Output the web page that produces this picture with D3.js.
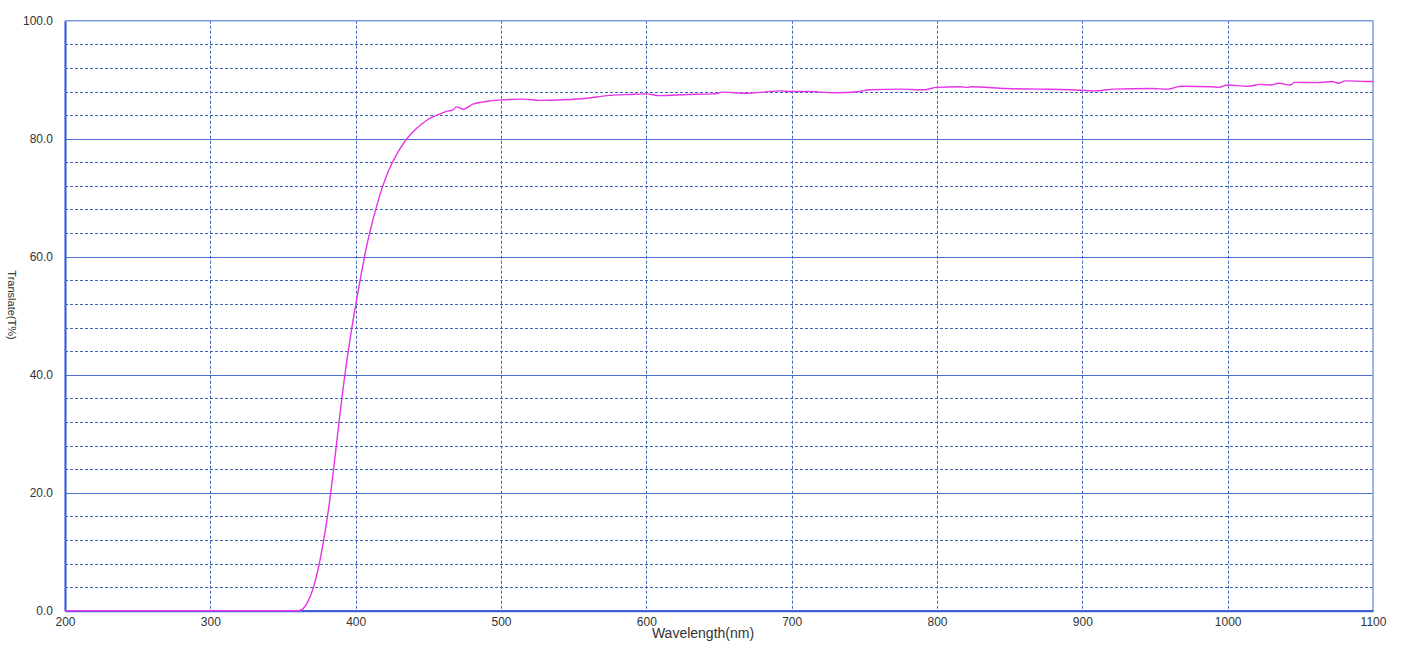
<!DOCTYPE html>
<html>
<head>
<meta charset="utf-8">
<script src="https://cdn.jsdelivr.net/npm/d3@7"></script>
<style>
  html, body { margin: 0; padding: 0; background: #fff; }
  svg { display: block; font-family: Arial, "Liberation Sans", sans-serif; }
</style>
</head>
<body>
<svg id="chart" width="1412" height="665"></svg>
<script>
// ---- data ----
const wavelength = [200, 360, 363, 367, 371, 375, 378, 380, 382, 384, 386, 388, 390, 392, 394, 396, 398, 400, 402, 404, 406, 408, 410, 414, 418, 422, 426, 430, 435, 440, 445, 450, 456, 462, 467, 469.5, 474, 481, 487, 492, 502, 515, 527, 543, 559, 573, 589, 600, 609, 628, 646, 653, 669, 680, 692, 700, 713, 729, 747, 753, 775, 791, 800, 816, 821, 823, 848, 869, 892, 908, 922, 948, 959, 968, 989, 994, 1000, 1014, 1023, 1030, 1035, 1043, 1046, 1062, 1072, 1076, 1081, 1095, 1100];
const transmittance = [0, 0, 0.2, 1.5, 4, 8, 12, 15, 18.4, 22.3, 26.5, 30.8, 35, 38.9, 42.5, 45.8, 48.9, 51.8, 54.6, 57.3, 59.9, 62.3, 64.4, 68.2, 71.5, 74.2, 76.3, 78.1, 79.9, 81.3, 82.4, 83.3, 84.0, 84.6, 84.9, 85.4, 85.0, 85.9, 86.2, 86.4, 86.6, 86.7, 86.5, 86.6, 86.85, 87.3, 87.5, 87.6, 87.3, 87.5, 87.6, 87.9, 87.7, 87.9, 88.1, 88.0, 88.0, 87.8, 88.0, 88.3, 88.4, 88.3, 88.7, 88.8, 88.7, 88.8, 88.5, 88.4, 88.3, 88.1, 88.4, 88.5, 88.4, 88.9, 88.8, 88.7, 89.1, 88.9, 89.2, 89.1, 89.4, 89.1, 89.55, 89.5, 89.7, 89.4, 89.8, 89.7, 89.7];
const xTicks = [200, 300, 400, 500, 600, 700, 800, 900, 1000, 1100];
const yMajorTicks = [0, 20, 40, 60, 80, 100];
const yMinorTicks = [4, 8, 12, 16, 24, 28, 32, 36, 44, 48, 52, 56, 64, 68, 72, 76, 84, 88, 92, 96];
const xTitle = "Wavelength(nm)";
const yTitle = "Translate(T%)";

// ---- layout ----
const L = 65, R = 1373, T = 20.7, B = 610.7;
const svg = d3.select("#chart");
const x = d3.scaleLinear().domain([200, 1100]).range([L, R]);
const y = d3.scaleLinear().domain([0, 100]).range([B, T]);

const gridColor = "#3f63b8";
const axisColor = "#3c5fd6";

// minor dashed horizontal
svg.append("g").selectAll("line").data(yMinorTicks).join("line")
  .attr("x1", L).attr("x2", R)
  .attr("y1", d => Math.round(y(d)) + 0.5).attr("y2", d => Math.round(y(d)) + 0.5)
  .attr("stroke", gridColor).attr("stroke-width", 1).attr("stroke-dasharray", "3,2");

// major solid horizontal
svg.append("g").selectAll("line").data(yMajorTicks.filter(d => d > 0 && d < 100)).join("line")
  .attr("x1", L).attr("x2", R)
  .attr("y1", d => Math.round(y(d)) + 0.5).attr("y2", d => Math.round(y(d)) + 0.5)
  .attr("stroke", "#4a6fcc").attr("stroke-width", 1);

// vertical dashed
svg.append("g").selectAll("line").data(xTicks.filter(d => d > 200 && d < 1100)).join("line")
  .attr("y1", T).attr("y2", B)
  .attr("x1", d => Math.round(x(d)) + 0.5).attr("x2", d => Math.round(x(d)) + 0.5)
  .attr("stroke", gridColor).attr("stroke-width", 1).attr("stroke-dasharray", "3,2");

// top & right frame
svg.append("line").attr("x1", L).attr("x2", R).attr("y1", T).attr("y2", T)
  .attr("stroke", "#7e9ae0").attr("stroke-width", 1.5);
svg.append("line").attr("x1", R).attr("x2", R).attr("y1", T).attr("y2", B)
  .attr("stroke", "#7e9ae0").attr("stroke-width", 1.5);

// axes
const xAxis = svg.append("g").attr("transform", `translate(0,${B})`)
  .call(d3.axisBottom(x).tickValues(xTicks).tickSize(0).tickPadding(7).tickFormat(d3.format("d")));
xAxis.select(".domain").attr("stroke", axisColor).attr("stroke-width", 2.2);
xAxis.selectAll("text").attr("font-size", 12).attr("fill", "#333").attr("font-family", "Arial, 'Liberation Sans', sans-serif");

const yAxis = svg.append("g").attr("transform", `translate(${L},0)`)
  .call(d3.axisLeft(y).tickValues(yMajorTicks).tickSize(0).tickPadding(12).tickFormat(d3.format(".1f")));
yAxis.select(".domain").attr("stroke", axisColor).attr("stroke-width", 2.2);
yAxis.selectAll("text").attr("font-size", 12).attr("fill", "#333").attr("font-family", "Arial, 'Liberation Sans', sans-serif");

// curve
const line = d3.line().x((d, i) => x(wavelength[i])).y(d => y(d)).curve(d3.curveMonotoneX);
svg.append("path").datum(transmittance)
  .attr("d", line).attr("fill", "none")
  .attr("stroke", "#e633e6").attr("stroke-width", 1.4);

// titles
svg.append("text").attr("x", 703).attr("y", 638).attr("text-anchor", "middle")
  .attr("font-size", 14).attr("fill", "#333").text(xTitle);
svg.append("text").attr("transform", "translate(8,305) rotate(90)").attr("text-anchor", "middle")
  .attr("font-size", 11).attr("fill", "#333").text(yTitle);
</script>
</body>
</html>
